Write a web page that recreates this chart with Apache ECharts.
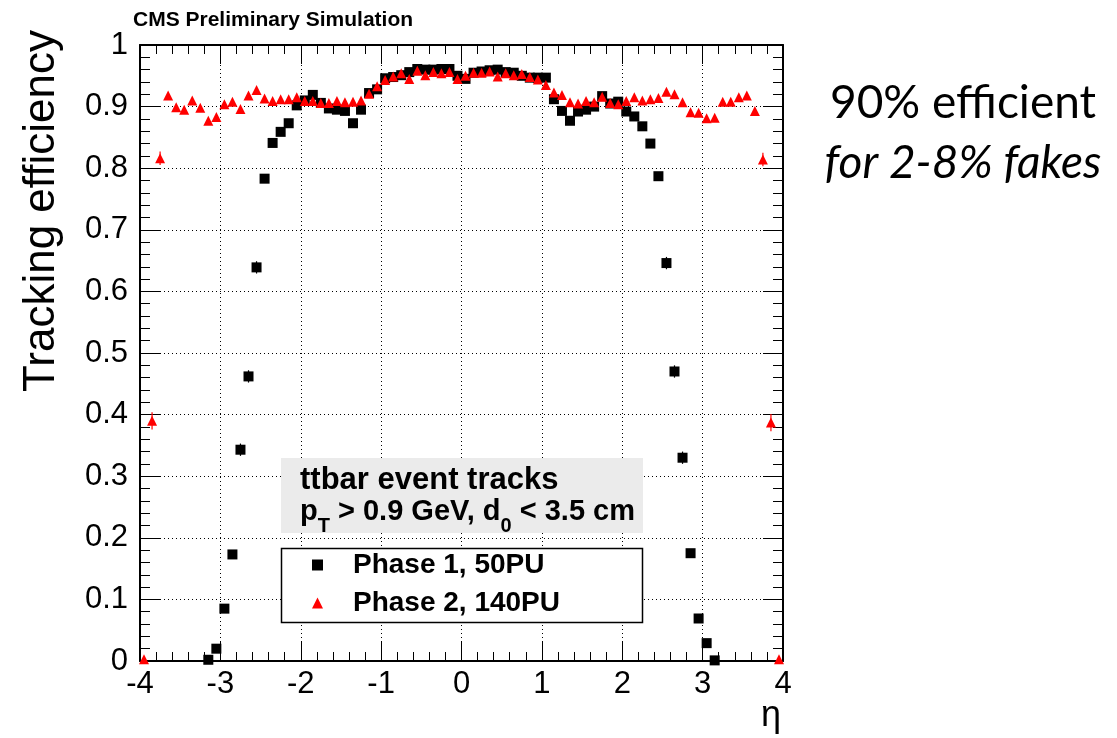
<!DOCTYPE html>
<html>
<head>
<meta charset="utf-8">
<script src="https://cdn.jsdelivr.net/npm/echarts@6/dist/echarts.min.js"></script>
<style>
html,body{margin:0;padding:0;background:#fff;}
#chart{width:1117px;height:738px;}
</style>
</head>
<body>
<div id="chart"></div>
<script>
// eta bin centres (bin width 0.1)
const etaCenters = [
 -3.95,-3.85,-3.75,-3.65,-3.55,-3.45,-3.35,-3.25,-3.15,-3.05,
 -2.95,-2.85,-2.75,-2.65,-2.55,-2.45,-2.35,-2.25,-2.15,-2.05,
 -1.95,-1.85,-1.75,-1.65,-1.55,-1.45,-1.35,-1.25,-1.15,-1.05,
 -0.95,-0.85,-0.75,-0.65,-0.55,-0.45,-0.35,-0.25,-0.15,-0.05,
  0.05, 0.15, 0.25, 0.35, 0.45, 0.55, 0.65, 0.75, 0.85, 0.95,
  1.05, 1.15, 1.25, 1.35, 1.45, 1.55, 1.65, 1.75, 1.85, 1.95,
  2.05, 2.15, 2.25, 2.35, 2.45, 2.55, 2.65, 2.75, 2.85, 2.95,
  3.05, 3.15, 3.25, 3.35, 3.45, 3.55, 3.65, 3.75, 3.85, 3.95
];
// Phase 1, 50PU efficiency
const phase1Eff = [
 null,null,null,null,null,null,null,null,0.002,0.020,
 0.085,0.173,0.343,0.462,0.639,0.783,0.841,0.859,0.873,0.902,
 0.910,0.919,0.906,0.897,0.895,0.893,0.873,0.895,0.922,0.928,
 0.946,0.948,0.951,0.956,0.961,0.960,0.960,0.961,0.961,0.950,
 0.945,0.955,0.957,0.959,0.960,0.956,0.955,0.950,0.947,0.947,
 0.947,0.912,0.893,0.877,0.892,0.895,0.900,0.917,0.905,0.908,
 0.892,0.884,0.868,0.840,0.787,0.646,0.470,0.330,0.175,0.069,
 0.029,0.001,null,null,null,null,null,null,null,null
];
// Phase 2, 140PU efficiency
const phase2Eff = [
 0.003,0.390,0.816,0.918,0.899,0.895,0.910,0.898,0.877,0.883,
 0.904,0.908,0.896,0.918,0.927,0.913,0.909,0.912,0.912,0.915,
 0.909,0.909,0.906,0.906,0.909,0.907,0.908,0.910,0.921,0.933,
 0.943,0.949,0.954,0.945,0.958,0.951,0.956,0.954,0.956,0.945,
 0.950,0.955,0.955,0.957,0.949,0.954,0.951,0.953,0.948,0.944,
 0.935,0.923,0.919,0.907,0.905,0.909,0.907,0.916,0.906,0.904,
 0.909,0.915,0.910,0.912,0.914,0.924,0.920,0.907,0.891,0.890,
 0.881,0.882,0.908,0.908,0.915,0.918,0.893,0.814,0.387,0.003
];
// visible error bars
const phase1ErrEta = [-2.75,-2.65,-2.55,2.55,2.65,2.75];
const phase1ErrVal = [0.010,0.010,0.010,0.010,0.010,0.010];
const phase2ErrEta = [-3.85,-3.75,3.75,3.85];
const phase2ErrVal = [0.014,0.011,0.011,0.014];

const seriesNames = ['Phase 1, 50PU','Phase 2, 140PU'];

const FONT = 'Liberation Sans';
const p1Data = [], p2Data = [];
etaCenters.forEach((x,i)=>{
  if (phase1Eff[i] !== null) p1Data.push([x, phase1Eff[i]]);
  if (phase2Eff[i] !== null) p2Data.push([x, phase2Eff[i]]);
});
function errData(etas, errs, vals){
  return etas.map((x,k)=>{
    const i = etaCenters.indexOf(x);
    return [x, vals[i], errs[k]];
  });
}
function errSeries(data, color){
  return {
    type:'custom', xAxisIndex:0, yAxisIndex:0, z:1, silent:true,
    renderItem:(params, api)=>{
      const x=api.value(0), y=api.value(1), e=api.value(2);
      const a=api.coord([x,y-e]), b=api.coord([x,y+e]);
      return {type:'line', shape:{x1:a[0],y1:a[1],x2:b[0],y2:b[1]}, style:{stroke:color, lineWidth:1.2}};
    },
    data:data
  };
}

const tickCommon = {
  axisLine:{show:true, onZero:false, lineStyle:{color:'#000', width:2}},
  axisTick:{show:true, inside:true, length:19, lineStyle:{color:'#000', width:1}},
  minorTick:{show:true, splitNumber:5, length:9, lineStyle:{color:'#000', width:1}}
};
const yTicks = {
  axisTick:{show:true, inside:true, length:20, lineStyle:{color:'#000', width:1}},
  minorTick:{show:true, splitNumber:5, length:10, lineStyle:{color:'#000', width:1}}
};

const chart = echarts.init(document.getElementById('chart'), null, {renderer:'canvas'});
chart.setOption({
  backgroundColor:'#fff',
  animation:false,
  grid:{left:140, right:334, top:45, bottom:77, containLabel:false, outerBoundsMode:'none'},
  xAxis:[
    Object.assign({type:'value', min:-4, max:4, interval:1, position:'bottom',
      axisLabel:{show:true, color:'#000', fontFamily:FONT, fontSize:31, margin:8},
      splitLine:{show:true, lineStyle:{color:'#000', width:1, type:[1,3]}}}, tickCommon),
    Object.assign({type:'value', min:-4, max:4, interval:1, position:'top',
      axisLabel:{show:false}, splitLine:{show:false}}, tickCommon)
  ],
  yAxis:[
    Object.assign({type:'value', min:0, max:1, interval:0.1, position:'left',
      axisLabel:{show:true, color:'#000', fontFamily:FONT, fontSize:31, margin:12},
      splitLine:{show:true, lineStyle:{color:'#000', width:1, type:[1,3]}}}, tickCommon, yTicks),
    Object.assign({type:'value', min:0, max:1, interval:0.1, position:'right',
      axisLabel:{show:false}, splitLine:{show:false}}, tickCommon, yTicks)
  ],
  legend:{
    left:312, top:550, orient:'vertical', padding:0, itemGap:8,
    itemWidth:11, itemHeight:11, selectedMode:false, z:10,
    data:seriesNames,
    textStyle:{fontFamily:FONT, fontWeight:'bold', fontSize:28, color:'#000', lineHeight:30, padding:[0,0,0,25]}
  },
  series:[
    errSeries(errData(phase1ErrEta, phase1ErrVal, phase1Eff), '#000'),
    errSeries(errData(phase2ErrEta, phase2ErrVal, phase2Eff), '#ff0000'),
    {name:seriesNames[0], type:'scatter', xAxisIndex:0, yAxisIndex:0, symbol:'rect', symbolSize:10,
     itemStyle:{color:'#000', opacity:1}, data:p1Data, z:3},
    {name:seriesNames[1], type:'scatter', xAxisIndex:0, yAxisIndex:0, symbol:'triangle', symbolSize:10,
     itemStyle:{color:'#ff0000', opacity:1}, data:p2Data, z:4}
  ],
  graphic:[
    {type:'text', z:6, style:{text:'CMS Preliminary Simulation', x:133, y:20, verticalAlign:'middle',
      font:'bold 21px "Liberation Sans"', fill:'#000'}},
    {type:'text', z:6, x:42, y:211, rotation:Math.PI/2, style:{text:'Tracking efficiency', x:0, y:0,
      align:'center', verticalAlign:'middle', font:'44px "Liberation Sans"', fill:'#000'}},
    {type:'text', z:6, style:{text:'η', x:771, y:716, align:'center', verticalAlign:'middle',
      font:'36px "Liberation Sans"', fill:'#000'}},
    {type:'text', z:6, style:{text:'90% efficient', x:963, y:103, align:'center', verticalAlign:'middle',
      font:'46px Lato', fill:'#000'}},
    {type:'text', z:6, style:{text:'for 2-8% fakes', x:963, y:163, align:'center', verticalAlign:'middle',
      font:'italic 46px Lato', fill:'#000'}},
    {type:'rect', z:5, shape:{x:281, y:458, width:362, height:75}, style:{fill:'#ebebeb'}},
    {type:'text', z:6, style:{text:'ttbar event tracks', x:300, y:480, verticalAlign:'middle',
      font:'bold 31px "Liberation Sans"', fill:'#000'}},
    {type:'text', z:6, style:{
      text:'{n|p}{s|T}{n| > 0.9 GeV, d}{s|0}{n| < 3.5 cm}', x:300, y:497, verticalAlign:'top',
      rich:{
        n:{fontFamily:FONT, fontWeight:'bold', fontSize:29, lineHeight:29, verticalAlign:'top', fill:'#000'},
        s:{fontFamily:FONT, fontWeight:'bold', fontSize:20, lineHeight:58, fill:'#000'}
      }}},
    {type:'rect', z:5, shape:{x:281.5, y:548.5, width:361, height:74}, style:{fill:'#fff', stroke:'#000', lineWidth:1.5}}
  ]
});
</script>
</body>
</html>
